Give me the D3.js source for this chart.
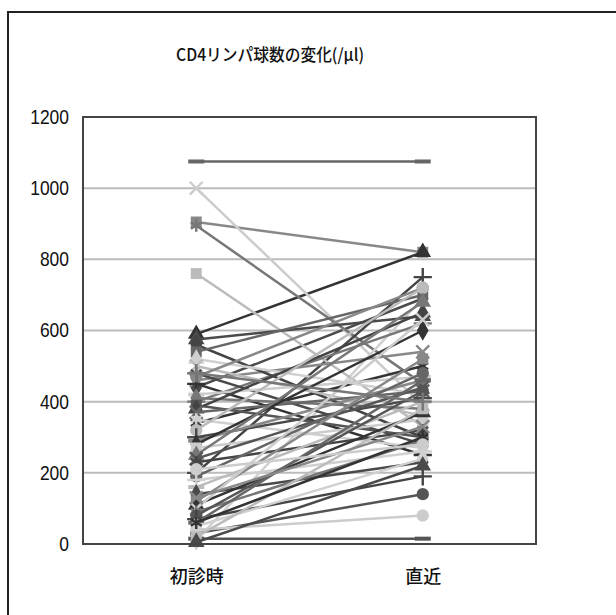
<!DOCTYPE html>
<html>
<head>
<meta charset="utf-8">
<script src="https://cdn.jsdelivr.net/npm/d3@7"></script>
<style>
  body { margin: 0; background: #fff; }
</style>
</head>
<body>
<svg id="chart"></svg>
<script>
// DATA ///////////////////////////////////////////////////////////////////
var title = "CD4リンパ球数の変化(/μl)";
var categories = ["初診時", "直近"];
var yTicks = [0, 200, 400, 600, 800, 1000, 1200];
// one entry per patient: value at first visit / latest value
var firstVisit = [440, 905, 590, 1000, 895, 30, 200, 1075, 10, 760,
    575, 460, 340, 40, 400, 15, 560, 540, 520, 500,
    480, 470, 450, 420, 410, 390, 380, 370, 350, 320,
    300, 290, 280, 270, 250, 240, 230, 190, 180, 160,
    140, 120, 110, 100, 90, 80, 70, 60, 50, 20,
    5, 130, 60, 210, 480];
var latest = [690, 820, 820, 390, 450, 140, 750, 1075, 690, 330,
    640, 540, 500, 80, 620, 15, 300, 700, 420, 360,
    280, 720, 250, 470, 380, 300, 650, 430, 270, 720,
    410, 460, 600, 350, 680, 440, 320, 480, 260, 400,
    230, 520, 370, 630, 290, 430, 190, 460, 240, 380,
    220, 330, 300, 280, 400];

// SETUP //////////////////////////////////////////////////////////////////
var W = 616, H = 615;
var M = { left: 83, right: 536, top: 117, bottom: 544 };

var svg = d3.select("#chart").attr("width", W).attr("height", H);

// outer frame (runs off the right/bottom of the picture)
svg.append("rect")
    .attr("x", 8).attr("y", 12)
    .attr("width", 700).attr("height", 700)
    .attr("fill", "none").attr("stroke", "#222").attr("stroke-width", 2);

svg.append("text")
    .attr("x", 270).attr("y", 61)
    .attr("text-anchor", "middle")
    .attr("textLength", 188).attr("lengthAdjust", "spacingAndGlyphs")
    .style("font-family", "'Noto Sans CJK JP', sans-serif")
    .style("font-size", "17px")
    .style("font-weight", "500")
    .attr("fill", "#111")
    .text(title);

var x = d3.scalePoint().domain(categories).range([M.left, M.right]).padding(0.5);
var y = d3.scaleLinear().domain([0, 1200]).range([M.bottom, M.top]);

// grid lines
svg.append("g")
    .selectAll("line")
    .data(yTicks.filter(function (d) { return d > 0 && d < 1200; }))
    .enter().append("line")
    .attr("x1", M.left).attr("x2", M.right)
    .attr("y1", function (d) { return y(d); })
    .attr("y2", function (d) { return y(d); })
    .attr("stroke", "#bbb").attr("stroke-width", 2);

// y axis labels (narrow digits)
var yAxis = svg.append("g")
    .attr("transform", "translate(" + M.left + ",0)")
    .call(d3.axisLeft(y).tickValues(yTicks).tickFormat(d3.format("d")).tickSize(0).tickPadding(14));
yAxis.select(".domain").remove();
yAxis.selectAll("text")
    .style("font-family", "'Liberation Sans', Arial, sans-serif")
    .style("font-size", "20px")
    .attr("textLength", function (d) { return String(d).length * 9.7; })
    .attr("lengthAdjust", "spacingAndGlyphs")
    .attr("fill", "#111");

// x axis labels
var xAxis = svg.append("g")
    .attr("transform", "translate(0," + M.bottom + ")")
    .call(d3.axisBottom(x).tickSize(0).tickPadding(26));
xAxis.select(".domain").remove();
xAxis.selectAll("text")
    .style("font-family", "'Noto Sans CJK JP', sans-serif")
    .style("font-size", "18px")
    .style("font-weight", "500")
    .attr("fill", "#111");

// patients
var patients = firstVisit.map(function (d, i) {
    return { id: i, values: [d, latest[i]] };
});

var shades = ["#4a4a4a", "#888", "#333", "#ccc", "#777", "#555", "#444", "#666", "#d0d0d0", "#bbb"];
var shade = function (i) { return shades[i % shades.length]; };

var markerTypes = [d3.symbolDiamond, d3.symbolSquare, d3.symbolTriangle, d3.symbolX,
    d3.symbolAsterisk, d3.symbolCircle, d3.symbolPlus, "dash"];

var line = d3.line()
    .x(function (d, i) { return x(categories[i]); })
    .y(function (d) { return y(d); });

var groups = svg.append("g")
    .selectAll("g")
    .data(patients)
    .enter().append("g");

groups.append("path")
    .attr("d", function (d) { return line(d.values); })
    .attr("fill", "none")
    .attr("stroke", function (d) { return shade(d.id); })
    .attr("stroke-width", 2.5);

groups.each(function (p) {
    var g = d3.select(this);
    var type = markerTypes[p.id % markerTypes.length];
    var col = shade(p.id);
    p.values.forEach(function (v, i) {
        var cx = x(categories[i]), cy = y(v);
        if (type === "dash") {
            g.append("rect")
                .attr("x", cx - 8).attr("y", cy - 2)
                .attr("width", 16).attr("height", 4)
                .attr("fill", col);
        } else {
            var stroked = (type === d3.symbolX || type === d3.symbolAsterisk || type === d3.symbolPlus);
            g.append("path")
                .attr("transform", "translate(" + cx + "," + cy + ")")
                .attr("d", d3.symbol().type(type).size(stroked ? 110 : 120)())
                .attr("fill", stroked ? "none" : col)
                .attr("stroke", stroked ? col : "none")
                .attr("stroke-width", 2.4);
        }
    });
});

// plot frame
svg.append("rect")
    .attr("x", M.left).attr("y", M.top)
    .attr("width", M.right - M.left).attr("height", M.bottom - M.top)
    .attr("fill", "none").attr("stroke", "#444").attr("stroke-width", 2);
</script>
</body>
</html>
